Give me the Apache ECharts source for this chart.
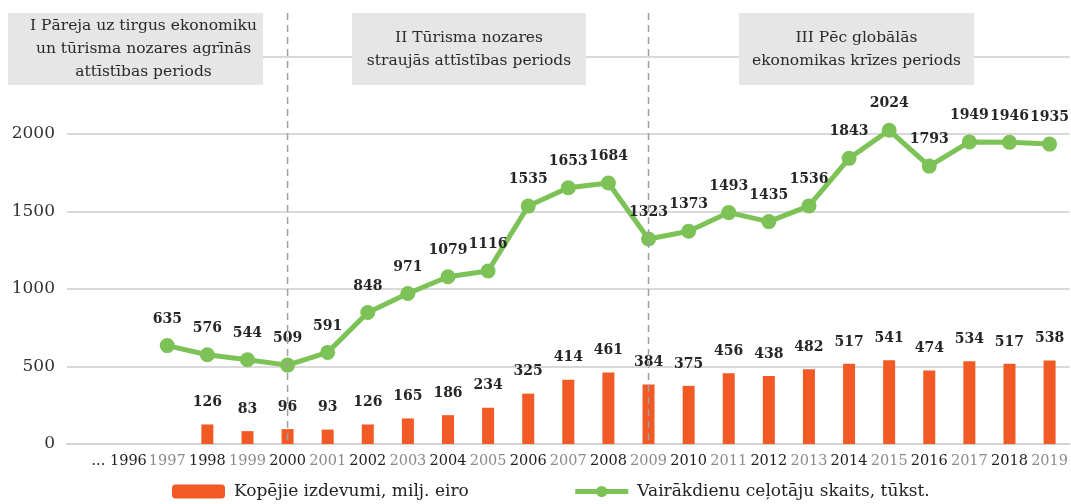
<!DOCTYPE html>
<html><head><meta charset="utf-8">
<script src="https://cdn.jsdelivr.net/npm/echarts@6/dist/echarts.min.js"></script>
<style>html,body{margin:0;padding:0;background:#fff}#c{width:1071px;height:504px}</style>
</head><body><div id="c"></div>
<script>
var categories = ['', '... 1996', '1997', '1998', '1999', '2000', '2001', '2002', '2003', '2004', '2005', '2006', '2007', '2008', '2009', '2010', '2011', '2012', '2013', '2014', '2015', '2016', '2017', '2018', '2019'];
var expenditure = [null, null, null, 126, 83, 96, 93, 126, 165, 186, 234, 325, 414, 461, 384, 375, 456, 438, 482, 517, 541, 474, 534, 517, 538];
var travellers = [null, null, 635, 576, 544, 509, 591, 848, 971, 1079, 1116, 1535, 1653, 1684, 1323, 1373, 1493, 1435, 1536, 1843, 2024, 1793, 1949, 1946, 1935];
var yTicks = [0, 500, 1000, 1500, 2000, 2500];
var periodBreaks = ['2000', '2009'];
var periodTitles = ['I Pāreja uz tirgus ekonomiku\nun tūrisma nozares agrīnās\nattīstības periods', 'II Tūrisma nozares\nstraujās attīstības periods', 'III Pēc globālās\nekonomikas krīzes periods'];
var seriesNames = ['Kopējie izdevumi, milj. eiro', 'Vairākdienu ceļotāju skaits, tūkst.'];

var FONT = 'DejaVu Serif';
var GREEN = '#7DC256';
var chart = echarts.init(document.getElementById('c'), null, {renderer: 'canvas'});

var catData = categories.map(function (c, i) {
  if (c.indexOf('...') === 0) return {value: c, textStyle: {padding: [0, 16, 0, 0]}};
  return c;
});

var option = {
  animation: false,
  backgroundColor: '#fff',
  textStyle: {fontFamily: FONT},
  grid: {left: 67, right: 0, top: 56.5, bottom: 60, containLabel: false},
  legend: {
    top: 478, left: 167, itemWidth: 53, itemHeight: 14, itemGap: 104,
    textStyle: {fontFamily: FONT, fontSize: 17, color: '#222', padding: [0, 0, 0, 4]},
    data: [
      {name: seriesNames[0]},
      {name: seriesNames[1], lineStyle: {width: 5, color: GREEN}, itemStyle: {color: GREEN}}
    ]
  },
  xAxis: {
    type: 'category', data: catData,
    axisLine: {lineStyle: {color: '#d4d4d4', width: 2}},
    axisTick: {show: false},
    axisLabel: {
      interval: 0, margin: 10, fontFamily: FONT, fontSize: 14.5,
      color: function (v, i) { var n = parseInt(v, 10); return (!isNaN(n) && n % 2 === 1) ? '#8a8a8a' : '#1e1e1e'; }
    }
  },
  yAxis: {
    type: 'value', min: yTicks[0], max: yTicks[yTicks.length - 1], interval: 500,
    axisLine: {show: false}, axisTick: {show: false},
    splitLine: {lineStyle: {color: '#d9d9d9', width: 2}},
    axisLabel: {
      margin: 12, fontFamily: FONT, fontSize: 17, color: '#333',
      formatter: function (v) { return v === 2500 ? '' : String(v); }
    }
  },
  series: [
    {
      name: seriesNames[0], type: 'bar', data: expenditure, barWidth: 12,
      itemStyle: {color: '#F15A24'},
      label: {show: true, position: 'top', distance: 15, fontFamily: FONT, fontWeight: 'bold', fontSize: 14, color: '#262626'}
    },
    {
      name: seriesNames[1], type: 'line', data: travellers, connectNulls: false,
      symbol: 'circle', symbolSize: 15,
      lineStyle: {color: GREEN, width: 5},
      itemStyle: {color: GREEN},
      label: {show: true, position: 'top', distance: 12, fontFamily: FONT, fontWeight: 'bold', fontSize: 14, color: '#262626'}
    }
  ]
};
chart.setOption(option);

var boxes = [
  {x: 8, w: 255},
  {x: 352, w: 234},
  {x: 739, w: 235}
];
var graphics = [];
periodBreaks.forEach(function (yr) {
  var px = chart.convertToPixel({xAxisIndex: 0}, yr);
  var y0 = chart.convertToPixel({yAxisIndex: 0}, 0);
  graphics.push({
    type: 'line', z: 50,
    shape: {x1: px, y1: 13, x2: px, y2: y0},
    style: {stroke: '#a0a0a0', lineWidth: 1.5, lineDash: [7, 5]}
  });
});
boxes.forEach(function (b, i) {
  graphics.push({
    type: 'rect', z: 60,
    shape: {x: b.x, y: 13, width: b.w, height: 72},
    style: {fill: '#E6E6E6'}
  });
  graphics.push({
    type: 'text', z: 61,
    x: b.x + b.w / 2 + (i === 0 ? 8 : 0), y: 49,
    style: {
      text: periodTitles[i], fontFamily: FONT, fontSize: 15.5, lineHeight: 23,
      fill: '#2a2a2a', align: 'center', verticalAlign: 'middle'
    }
  });
});
chart.setOption({graphic: graphics});
</script></body></html>
